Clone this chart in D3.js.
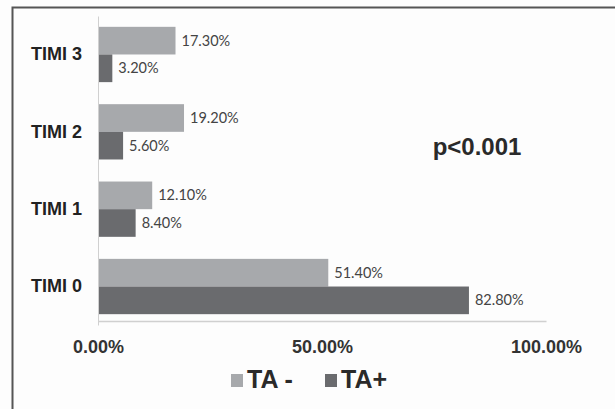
<!DOCTYPE html>
<html>
<head>
<meta charset="utf-8">
<script src="https://cdn.jsdelivr.net/npm/d3@7"></script>
<style>
	body { margin: 0; background: #fdfdfd; }
	svg { display: block; }
	.cat text { font-family: "Liberation Sans", Arial, sans-serif; font-weight: bold; font-size: 18px; fill: #222; }
	.x.axis text { font-family: "Liberation Sans", Arial, sans-serif; font-weight: bold; font-size: 18px; fill: #333; }
	.val { font-family: "Lato", "Open Sans", sans-serif; font-size: 14.5px; fill: #444; }
</style>
</head>
<body>
<div id="chart"></div>
<script>

// categories, top to bottom
var categories = ["TIMI 3", "TIMI 2", "TIMI 1", "TIMI 0"];
var seriesNames = ["TA -", "TA+"];
var taMinus = [17.3, 19.2, 12.1, 51.4];
var taPlus = [3.2, 5.6, 8.4, 82.8];
var xTicks = [0, 50, 100];
var colors = ["#a7a9ac", "#6a6b6e"];

var width = 615, height = 409;

var svg = d3.select("#chart").append("svg")
	.attr("width", width)
	.attr("height", height);

svg.append("rect")
	.attr("width", width)
	.attr("height", height)
	.attr("fill", "#fdfdfd");

// frame (top + left only visible)
svg.append("path")
	.attr("d", "M12.5," + height + "V7.5H" + width)
	.attr("fill", "none")
	.attr("stroke", "#555")
	.attr("stroke-width", 2);

var x = d3.scaleLinear().domain([0, 100]).range([98, 546]);
var y = d3.scaleBand().domain(categories).range([16, 325]).paddingInner(0.285).paddingOuter(0.14);
var y2 = d3.scaleBand().domain([0, 1]).range([0, y.bandwidth()]);

// group rows
var rows = categories.map(function(c, i) {
	return { cat: c, vals: [taMinus[i], taPlus[i]] };
});

var g = svg.selectAll("g.row")
	.data(rows)
	.enter().append("g")
	.attr("class", "row")
	.attr("transform", function(d) { return "translate(0," + y(d.cat) + ")"; });

g.selectAll("rect")
	.data(function(d) { return d.vals; })
	.enter().append("rect")
	.attr("x", x(0))
	.attr("y", function(d, i) { return y2(i); })
	.attr("width", function(d) { return x(d) - x(0); })
	.attr("height", y2.bandwidth())
	.attr("fill", function(d, i) { return colors[i]; });

g.selectAll("text.val")
	.data(function(d) { return d.vals; })
	.enter().append("text")
	.attr("class", "val")
	.attr("x", function(d) { return x(d) + 6; })
	.attr("y", function(d, i) { return y2(i) + y2.bandwidth() / 2; })
	.attr("dy", "0.35em")
	.text(function(d) { return d.toFixed(2) + "%"; });

// category axis
var yAxis = d3.axisLeft(y).tickSize(0).tickPadding(16);
svg.append("g")
	.attr("class", "cat")
	.attr("transform", "translate(" + x(0) + ",0)")
	.call(yAxis)
	.call(function(s) { s.select(".domain").attr("stroke", "#d0d0d0"); });

// value axis
var xAxis = d3.axisBottom(x)
	.tickValues(xTicks)
	.tickSize(0)
	.tickPadding(19)
	.tickFormat(function(d) { return d.toFixed(2) + "%"; });
svg.append("g")
	.attr("class", "x axis")
	.attr("transform", "translate(0,321)")
	.call(xAxis)
	.call(function(s) { s.select(".domain").attr("stroke", "#d0d0d0").attr("stroke-width", 1.5); });

// p value
svg.append("text")
	.attr("x", 477)
	.attr("y", 155)
	.attr("text-anchor", "middle")
	.attr("font-family", "Liberation Sans, Arial, sans-serif")
	.attr("font-weight", "bold")
	.attr("font-size", 24)
	.attr("fill", "#2a2a2a")
	.text("p<0.001");

// legend
var legendX = [231, 325];
var leg = svg.selectAll("g.legend")
	.data(seriesNames)
	.enter().append("g")
	.attr("class", "legend")
	.attr("transform", function(d, i) { return "translate(" + legendX[i] + ",374)"; });

leg.append("rect")
	.attr("width", 12)
	.attr("height", 13)
	.attr("fill", function(d, i) { return colors[i]; });

leg.append("text")
	.attr("x", 16)
	.attr("y", 14)
	.attr("font-family", "Liberation Sans, Arial, sans-serif")
	.attr("font-weight", "bold")
	.attr("font-size", 25)
	.attr("fill", "#2a2a2a")
	.text(function(d) { return d; });

</script>
</body>
</html>
